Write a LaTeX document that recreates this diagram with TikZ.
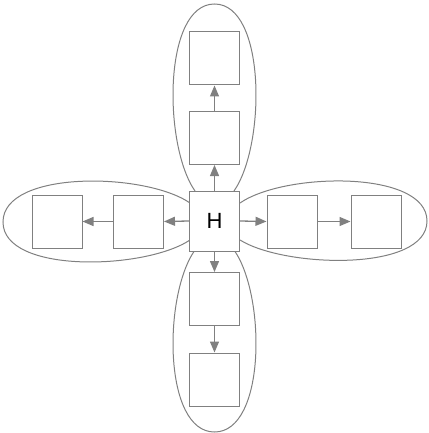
\documentclass[tikz,border=0pt]{standalone}
\usepackage{fontspec}
\setmainfont{Liberation Sans}
\usetikzlibrary{arrows.meta}
\definecolor{lgray}{HTML}{808080}
\begin{document}
\begin{tikzpicture}[x=1pt,y=-1pt,
  box/.style={draw=lgray,line width=1pt,fill=white,minimum width=50pt,minimum height=53pt,inner sep=0pt},
  hbox/.style={box,minimum height=60pt,font=\fontsize{22}{24}\selectfont},
  edge/.style={draw=lgray,line width=1.3pt,-{Triangle[length=11pt,width=9pt]}},
  cluster/.style={draw=lgray,line width=1pt}]
\useasboundingbox (0,0) rectangle (428,433);
% clusters
\draw[cluster] (195,191) .. controls (163,145) and (163,4) .. (214.5,4) .. controls (266,4) and (266,145) .. (234,191);
\draw[cluster] (195,250) .. controls (163,295) and (163,432) .. (214.5,432) .. controls (266,432) and (266,295) .. (234,250);
\draw[cluster] (190,203) .. controls (145,172) and (3,170) .. (3,222) .. controls (3,274) and (145,270) .. (190,240);
\draw[cluster] (240,203) .. controls (285,172) and (427,170) .. (427,221) .. controls (427,272) and (285,268) .. (240,240);
% nodes
\node[hbox] (h) at (214.5,221) {H};
\node[box] (t1) at (214.5,138) {};
\node[box] (t2) at (214.5,58.5) {};
\node[box] (b1) at (214.5,299) {};
\node[box] (b2) at (214.5,379.5) {};
\node[box] (l1) at (138.5,221.5) {};
\node[box] (l2) at (57,221.5) {};
\node[box] (r1) at (292,221.5) {};
\node[box] (r2) at (376,221.5) {};
% edges
\draw[edge] (h.north) -- (t1.south);
\draw[edge] (t1.north) -- (t2.south);
\draw[edge] (h.south) -- (b1.north);
\draw[edge] (b1.south) -- (b2.north);
\draw[edge] (h.west) -- (l1.east);
\draw[edge] (l1.west) -- (l2.east);
\draw[edge] (h.east) -- (r1.west);
\draw[edge] (r1.east) -- (r2.west);
\end{tikzpicture}
\end{document}
